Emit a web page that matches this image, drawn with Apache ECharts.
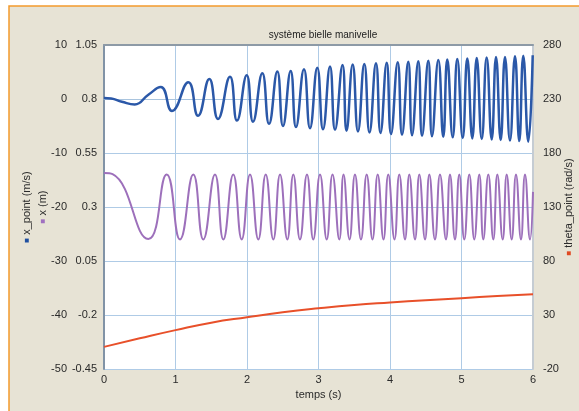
<!DOCTYPE html>
<html>
<head>
<meta charset="utf-8">
<script src="https://cdn.jsdelivr.net/npm/echarts@6/dist/echarts.min.js"></script>
<style>
  html, body { margin: 0; padding: 0; background: #fff; }
  #chart { width: 579px; height: 411px; }
</style>
</head>
<body>
<div id="chart"></div>
<script>
// x_point (m/s): peaks and troughs, [t, value]
const xPointData = [
  [0, 0.2], [0.1, 0.1], [0.25, -0.5], [0.43, -1.0], [0.62, 0.8],
  [0.793, 2.2], [0.951, -2.2], [1.179, 3.1], [1.315, -3.1], [1.473, 3.7],
  [1.594, -3.7], [1.762, 4.1], [1.860, -4.0], [1.996, 4.4], [2.084, -4.2],
  [2.214, 4.75], [2.308, -4.6], [2.424, 5.1], [2.503, -5.0], [2.611, 5.2],
  [2.685, -5.2], [2.797, 5.5], [2.881, -5.4], [2.983, 5.8], [3.063, -5.6],
  [3.161, 6.0], [3.231, -5.7], [3.336, 6.3], [3.392, -5.9], [3.478, 6.4],
  [3.552, -6.0], [3.641, 6.5], [3.713, -6.2], [3.804, 6.6], [3.867, -6.3],
  [3.954, 6.7], [4.014, -6.5], [4.108, 6.8], [4.168, -6.6], [4.256, 6.9],
  [4.308, -6.7], [4.396, 7.0], [4.448, -6.8], [4.536, 7.1], [4.587, -6.9],
  [4.676, 7.2], [4.745, -7.0], [4.801, 7.3], [4.877, -7.1], [4.941, 7.4],
  [5.017, -7.2], [5.081, 7.5], [5.151, -7.3], [5.213, 7.6], [5.283, -7.4],
  [5.352, 7.7], [5.422, -7.5], [5.483, 7.8], [5.548, -7.6], [5.608, 7.8],
  [5.678, -7.7], [5.748, 7.9], [5.808, -7.8], [5.864, 8.0], [5.934, -7.9],
  [5.996, 8.1]
];

// x (m)
const xData = [
  [0, 0.457], [0.12, 0.452], [0.62, 0.152], [0.877, 0.45], [1.063, 0.15],
  [1.249, 0.45], [1.389, 0.15], [1.552, 0.45], [1.669, 0.15], [1.808, 0.45],
  [1.926, 0.15], [2.042, 0.45], [2.158, 0.15], [2.262, 0.45], [2.368, 0.15],
  [2.462, 0.45], [2.564, 0.15], [2.648, 0.45], [2.741, 0.15], [2.839, 0.45],
  [2.927, 0.15], [3.021, 0.45], [3.115, 0.15], [3.196, 0.45], [3.291, 0.15],
  [3.350, 0.45], [3.434, 0.15], [3.510, 0.45], [3.594, 0.15], [3.674, 0.45],
  [3.755, 0.15], [3.828, 0.45], [3.909, 0.15], [3.976, 0.45], [4.063, 0.15],
  [4.130, 0.45], [4.210, 0.15], [4.270, 0.45], [4.350, 0.15], [4.410, 0.45],
  [4.490, 0.15], [4.550, 0.45], [4.629, 0.15], [4.699, 0.45], [4.783, 0.15],
  [4.839, 0.45], [4.909, 0.15], [4.969, 0.45], [5.039, 0.15], [5.109, 0.45],
  [5.179, 0.15], [5.249, 0.45], [5.305, 0.15], [5.375, 0.45], [5.445, 0.15],
  [5.501, 0.45], [5.576, 0.15], [5.632, 0.45], [5.702, 0.15], [5.762, 0.45],
  [5.832, 0.15], [5.888, 0.45], [5.958, 0.15], [6.0, 0.37]
];

// theta_point (rad/s)
const thetaData = [
  [0, 0.5], [0.5, 8.4], [1, 16], [1.5, 22.9], [2, 27.9], [2.5, 32.5],
  [3, 36.2], [3.5, 39.3], [4, 41.6], [4.5, 43.7], [5, 45.6], [5.5, 47.5], [6, 49.2]
];

const xMeterTicks = [-0.45, -0.2, 0.05, 0.3, 0.55, 0.8, 1.05];
const thetaTicks = [-20, 30, 80, 130, 180, 230, 280];

const font = "'Liberation Sans', Arial, sans-serif";
const labelColor = "#2a2a2a";
const gridColor = "#afcbe6";

const chart = echarts.init(document.getElementById("chart"));

chart.setOption({
  animation: false,
  backgroundColor: "#fff",
  textStyle: { fontFamily: font },
  graphic: [
    {
      type: "rect",
      z: -10,
      shape: { x: 9, y: 6, width: 700, height: 500 },
      style: { fill: "#e7e3d5", stroke: "#f39a2c", lineWidth: 1.5 }
    }
  ],
  title: {
    text: "système bielle manivelle",
    left: 318,
    top: 25,
    textAlign: "center",
    textStyle: { fontSize: 10, fontWeight: "normal", color: "#222", fontFamily: font }
  },
  grid: {
    left: 104,
    right: 46,
    top: 45,
    bottom: 42,
    outerBoundsMode: "none",
    containLabel: false,
    show: true,
    backgroundColor: "#fff",
    borderWidth: 0
  },
  xAxis: [
    {
      type: "value",
      min: 0,
      max: 6,
      interval: 1,
      name: "temps (s)",
      nameLocation: "middle",
      nameGap: 18,
      nameTextStyle: { fontSize: 11, color: labelColor },
      axisLine: { show: true, lineStyle: { color: "#a9c4de", width: 1 } },
      axisTick: { show: false },
      axisLabel: { fontSize: 11, color: labelColor, margin: 5 },
      splitLine: { show: true, lineStyle: { color: gridColor, width: 1 } }
    },
    {
      type: "value",
      position: "top",
      min: 0,
      max: 6,
      axisLine: { show: true, onZero: false, lineStyle: { color: "#8d9aa6", width: 2 } },
      axisTick: { show: false },
      axisLabel: { show: false },
      splitLine: { show: false }
    }
  ],
  yAxis: [
    {
      type: "value",
      position: "left",
      offset: 30,
      min: -50,
      max: 10,
      interval: 10,
      name: "{m|■} x_point (m/s)",
      nameLocation: "middle",
      nameRotate: 90,
      nameGap: 42,
      nameTextStyle: {
        fontSize: 11,
        color: labelColor,
        rich: { m: { color: "#1f4fa0", fontSize: 8 } }
      },
      axisLine: { show: false },
      axisTick: { show: false },
      axisLabel: { fontSize: 11, color: labelColor, margin: 7 },
      splitLine: { show: true, lineStyle: { color: gridColor, width: 1 } }
    },
    {
      type: "value",
      position: "left",
      min: -0.45,
      max: 1.05,
      name: "{m|■} x (m)",
      nameLocation: "middle",
      nameRotate: 90,
      nameGap: 56,
      nameTextStyle: {
        fontSize: 11,
        color: labelColor,
        rich: { m: { color: "#a070c0", fontSize: 8 } }
      },
      axisLine: { show: true, onZero: false, lineStyle: { color: "#8193a6", width: 2 } },
      axisTick: { show: false, customValues: xMeterTicks },
      axisLabel: { fontSize: 11, color: labelColor, margin: 7, customValues: xMeterTicks },
      splitLine: { show: false }
    },
    {
      type: "value",
      position: "right",
      min: -20,
      max: 280,
      name: "{m|■} theta_point (rad/s)",
      nameLocation: "middle",
      nameRotate: 90,
      nameGap: 30,
      nameMoveOverlap: false,
      nameTextStyle: {
        fontSize: 11,
        color: labelColor,
        rich: { m: { color: "#e04a22", fontSize: 8 } }
      },
      axisLine: { show: true, onZero: false, lineStyle: { color: "#c5ccd3", width: 2 } },
      axisTick: { show: false, customValues: thetaTicks },
      axisLabel: { fontSize: 11, color: labelColor, margin: 10, customValues: thetaTicks },
      splitLine: { show: false }
    }
  ],
  series: [
    {
      name: "theta_point",
      type: "line",
      yAxisIndex: 2,
      data: thetaData,
      showSymbol: false,
      smooth: true,
      lineStyle: { color: "#e8502a", width: 2 }
    },
    {
      name: "x",
      type: "line",
      yAxisIndex: 1,
      data: xData,
      showSymbol: false,
      smooth: true,
      lineStyle: { color: "#9d70bb", width: 2 }
    },
    {
      name: "x_point",
      type: "line",
      yAxisIndex: 0,
      data: xPointData,
      showSymbol: false,
      smooth: true,
      lineStyle: { color: "#2b58a8", width: 2.5 }
    }
  ]
});
</script>
</body>
</html>
